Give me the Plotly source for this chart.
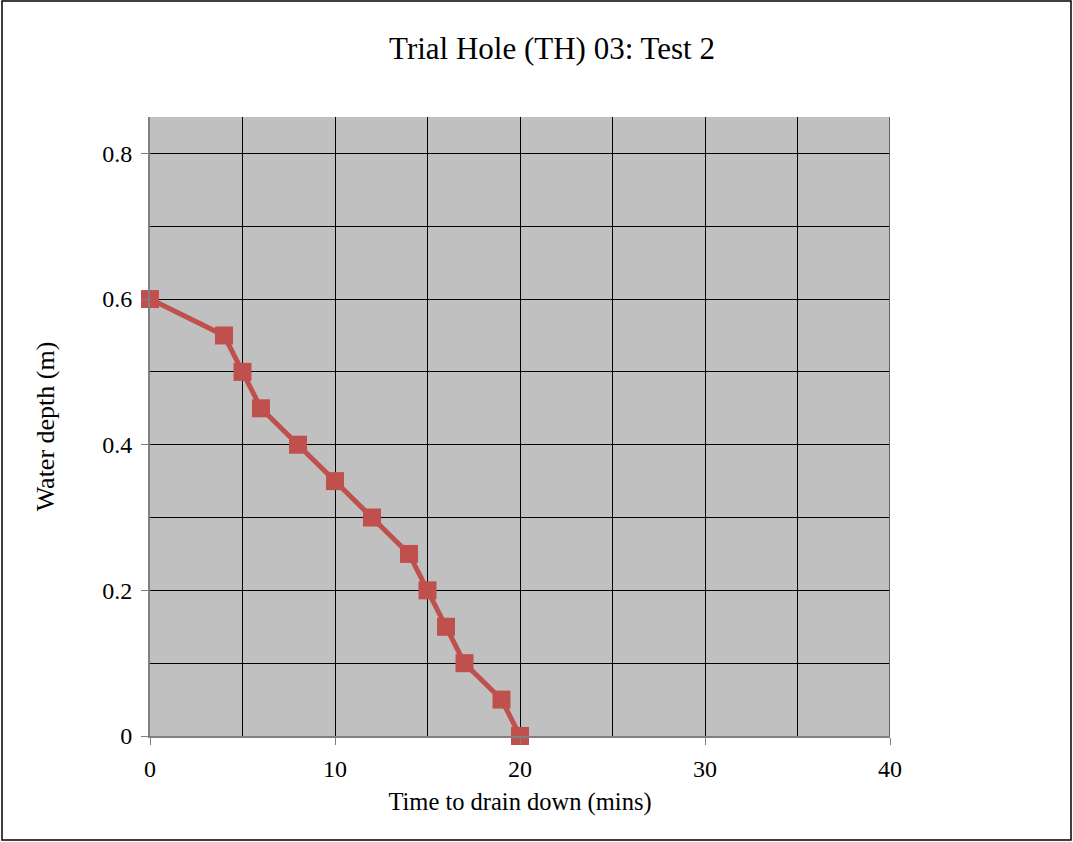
import plotly.graph_objects as go

time_mins = [0, 4, 5, 6, 8, 10, 12, 14, 15, 16, 17, 19, 20]
water_depth = [0.6, 0.55, 0.5, 0.45, 0.4, 0.35, 0.3, 0.25, 0.2, 0.15, 0.1, 0.05, 0.0]

FONT = "Liberation Serif, Times New Roman, serif"

fig = go.Figure()
fig.add_trace(go.Scatter(
    x=time_mins, y=water_depth, mode="lines+markers",
    line=dict(color="#C0504D", width=5),
    marker=dict(symbol="square", size=18, color="#C0504D",
                line=dict(color="#C0504D", width=0)),
    cliponaxis=False, showlegend=False,
))

fig.update_layout(
    width=1073, height=842,
    margin=dict(l=150, r=183, t=117, b=106),
    paper_bgcolor="white", plot_bgcolor="#C0C0C0",
    font=dict(family=FONT, color="black"),
    title=dict(text="Trial Hole (TH) 03: Test 2", x=552 / 1073, xanchor="center",
               y=1 - 48 / 842, yanchor="middle",
               font=dict(family=FONT, size=31, color="black")),
    xaxis=dict(range=[0, 40], dtick=10, tick0=0,
               showgrid=True, gridcolor="black", gridwidth=1,
               minor=dict(dtick=5, showgrid=True, gridcolor="black", gridwidth=1, ticks=""),
               showline=True, linecolor="#808080", linewidth=2,
               ticks="outside", ticklen=7, tickcolor="#808080", tickwidth=1,
               tickfont=dict(family=FONT, size=24), ticklabelstandoff=3,
               zeroline=False,
               title=dict(text="Time to drain down (mins)", standoff=12,
                          font=dict(family=FONT, size=24.5))),
    yaxis=dict(range=[0, 0.85], dtick=0.2, tick0=0,
               showgrid=True, gridcolor="black", gridwidth=1,
               minor=dict(dtick=0.1, showgrid=True, gridcolor="black", gridwidth=1, ticks=""),
               showline=True, linecolor="#808080", linewidth=2,
               ticks="outside", ticklen=7, tickcolor="#808080", tickwidth=1,
               tickfont=dict(family=FONT, size=24), ticklabelstandoff=4,
               zeroline=False,
               title=dict(text="Water depth (m)", standoff=40,
                          font=dict(family=FONT, size=26))),
    shapes=[
        dict(type="rect", xref="paper", yref="paper",
             x0=-148 / 740, x1=(890 + 181 - 150) / 740,
             y0=-(842 - 736 - 2) / 619, y1=(736 - 1) / 619,
             line=dict(color="black", width=1.5), layer="below"),
        dict(type="line", xref="x", yref="paper", x0=40, x1=40, y0=0, y1=1,
             line=dict(color="#606060", width=2)),
    ],
)

fig.write_html("out.html")
